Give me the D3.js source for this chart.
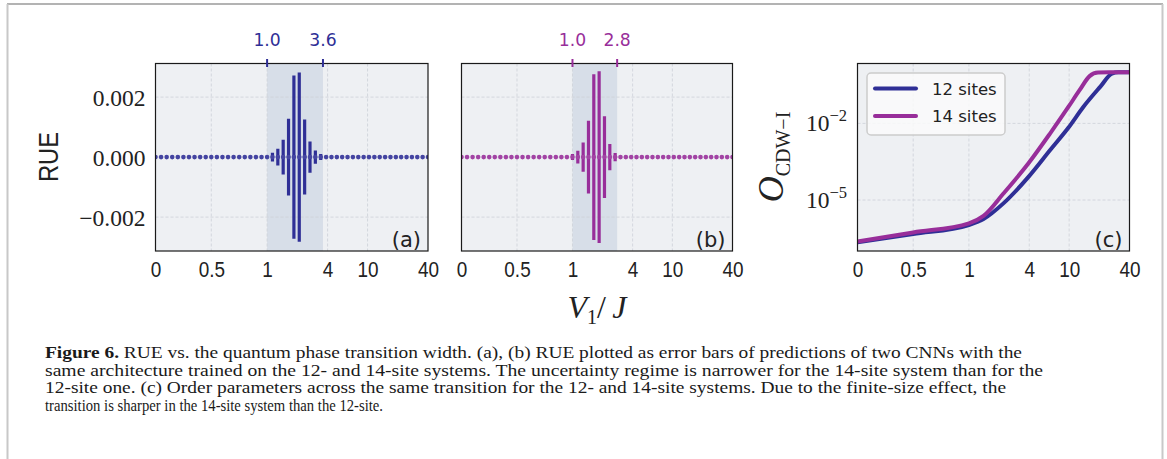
<!DOCTYPE html>
<html>
<head>
<meta charset="utf-8">
<script src="https://cdn.jsdelivr.net/npm/d3@7"></script>
<style>
  body { margin: 0; background: #fff; }
  svg { display: block; }
</style>
</head>
<body>
<svg id="fig"></svg>
<script>
// ---- data ----
// V1/J sample grid shared by panels (a) and (b)
const vGrid = [
  0, 0.05, 0.1, 0.15, 0.2, 0.25, 0.3, 0.35, 0.4, 0.45, 0.5,
  0.55, 0.6, 0.65, 0.7, 0.75, 0.8, 0.85, 0.9, 0.95, 1.0,
  1.131, 1.279, 1.446, 1.635, 1.849, 2.091, 2.365, 2.674, 3.024, 3.42,
  3.867, 4.373, 4.946, 5.593, 6.325, 7.152, 8.088, 9.147, 10.34, 11.7,
  13.23, 14.96, 16.92, 19.13, 21.63, 24.46, 27.66, 31.28, 35.37, 40
];
// RUE (half length of the error bar) for the 12-site CNN
const rue12 = [
  0, 0, 0, 0, 0, 0, 0, 0, 0, 0, 0,
  0, 0, 0, 0, 0, 0, 0, 0, 0, 0.00002,
  0.000145, 0.00028, 0.00058, 0.00128, 0.00272, 0.00282, 0.00125, 0.00052, 0.00022, 0.0001,
  0, 0, 0, 0, 0, 0, 0, 0, 0, 0,
  0, 0, 0, 0, 0, 0, 0, 0, 0, 0
];
// RUE for the 14-site CNN
const rue14 = [
  0, 0, 0, 0, 0, 0, 0, 0, 0, 0, 0,
  0, 0, 0, 0, 0, 0, 0, 0, 0, 0.0001,
  0.00021, 0.00049, 0.00121, 0.00276, 0.00286, 0.00136, 0.00044, 0.00014, 0, 0,
  0, 0, 0, 0, 0, 0, 0, 0, 0, 0,
  0, 0, 0, 0, 0, 0, 0, 0, 0, 0
];
const window12 = [1.0, 3.6];
const window14 = [1.0, 2.8];
const windowLabels12 = ['1.0', '3.6'];
const windowLabels14 = ['1.0', '2.8'];

const xTicks = [0, 0.5, 1, 4, 10, 40];
const xTickLabels = ['0', '0.5', '1', '4', '10', '40'];
const rueTicks = [-0.002, 0, 0.002];
const rueTickLabels = ['\u22120.002', '0.000', '0.002'];

// order parameter O_CDW-I
const orderV12 = [0, 0.5, 1.0, 1.4, 2.21, 3.93, 6.47, 9.86, 13.9, 20.4, 26.7, 31, 40];
const order12 = [2.24e-7, 4.7e-7, 1.05e-6, 1.8e-6, 7.4e-6, 8.1e-5, 9.1e-4, 6.9e-3, 0.045, 0.27, 0.89, 1.0, 1.0];
const orderV14 = [0, 0.5, 1.0, 1.4, 2.21, 3.93, 6.47, 9.86, 12.7, 16.0, 19.4, 25, 40];
const order14 = [2.4e-7, 5.4e-7, 1.23e-6, 2.4e-6, 1.8e-5, 2.75e-4, 4.1e-3, 0.045, 0.2, 0.71, 0.98, 1.0, 1.0];
const orderTicks = [1e-5, 1e-2];
const orderTickExp = ['\u22125', '\u22122'];
const legendLabels = ['12 sites', '14 sites'];

const captionLines = [
  ['Figure 6.', ' RUE vs. the quantum phase transition width. (a), (b) RUE plotted as error bars of predictions of two CNNs with the'],
  ['', 'same architecture trained on the 12- and 14-site systems. The uncertainty regime is narrower for the 14-site system than for the'],
  ['', '12-site one. (c) Order parameters across the same transition for the 12- and 14-site systems. Due to the finite-size effect, the'],
  ['', 'transition is sharper in the 14-site system than the 12-site.']
];
const captionWidths = [977, 998, 961, 338];

// ---- style ----
const BLUE = '#2f2f96';
const MAGENTA = '#982e9a';
const BG = '#eef0f3';
const SHADE = '#d7dee8';
const GRID = '#cdd1d8';
const NARROW = '"Liberation Sans", Arial, sans-serif';
const SANS = '"DejaVu Sans", sans-serif';
const SERIF = '"Liberation Serif", "DejaVu Serif", serif';

const W = 1167, H = 459;
const plotTop = 63.5, plotH = 187.5;

const svg = d3.select('#fig').attr('width', W).attr('height', H);
svg.append('rect').attr('width', W).attr('height', H).attr('fill', '#fff');

// page frame of the journal figure box
svg.append('line').attr('x1', 7).attr('x2', 1163).attr('y1', 4).attr('y2', 4)
  .attr('stroke', '#9a9a9a').attr('stroke-width', 1.5);
svg.append('line').attr('x1', 7.5).attr('x2', 7.5).attr('y1', 4).attr('y2', H)
  .attr('stroke', '#c8c8c8').attr('stroke-width', 2);
svg.append('line').attr('x1', 1162.5).attr('x2', 1162.5).attr('y1', 4).attr('y2', H)
  .attr('stroke', '#c8c8c8').attr('stroke-width', 2);

// matplotlib symlog transform, linthresh = 1
const LINSCALE = 1 / (1 - 1 / 10);
function symlog(v) {
  return v <= 1 ? v * LINSCALE : LINSCALE + Math.log10(v);
}

// squeeze a text to mimic the narrow sans of the original
function narrow(sel, k) {
  sel.each(function () {
    const len = this.getComputedTextLength();
    d3.select(this).attr('textLength', len * k).attr('lengthAdjust', 'spacingAndGlyphs');
  });
}

function addBottomAxis(g, x, width) {
  const axis = d3.axisBottom(x)
    .tickValues(xTicks.map(symlog))
    .tickFormat((d, i) => xTickLabels[i])
    .tickSize(0)
    .tickPadding(11);
  const ga = g.append('g').attr('transform', `translate(0,${plotH})`).call(axis);
  ga.select('.domain').remove();
  ga.selectAll('text').attr('font-family', NARROW).attr('font-size', 21.5).attr('fill', '#222');
  narrow(ga.selectAll('text'), 0.88);
}

function addFrame(g, width) {
  g.append('rect').attr('width', width).attr('height', plotH)
    .attr('fill', 'none').attr('stroke', '#1a1a1a').attr('stroke-width', 1.2);
}

function addPanelLabel(g, width, txt) {
  g.append('text').attr('x', width - 7).attr('y', 183)
    .attr('text-anchor', 'end').attr('font-family', SANS).attr('font-size', 21)
    .attr('fill', '#222').text(txt);
}

function createRuePanel(id, left, width, values, color, win, winLabels, showY, label) {
  const g = svg.append('g').attr('transform', `translate(${left},${plotTop})`);
  const x = d3.scaleLinear().domain([symlog(0), symlog(40)]).range([0, width]);
  const y = d3.scaleLinear().domain([-0.00313, 0.00312]).range([plotH, 0]);

  svg.append('clipPath').attr('id', id).append('rect').attr('width', width).attr('height', plotH);

  g.append('rect').attr('width', width).attr('height', plotH).attr('fill', BG);

  // uncertainty window
  g.append('rect')
    .attr('x', x(symlog(win[0])))
    .attr('width', x(symlog(win[1])) - x(symlog(win[0])))
    .attr('height', plotH)
    .attr('fill', SHADE);

  // grid
  g.append('g').selectAll('line').data(xTicks.slice(1, -1)).join('line')
    .attr('x1', (d) => x(symlog(d))).attr('x2', (d) => x(symlog(d)))
    .attr('y1', 0).attr('y2', plotH)
    .attr('stroke', GRID).attr('stroke-width', 0.8).attr('stroke-dasharray', '3,2');
  g.append('g').selectAll('line').data(rueTicks).join('line')
    .attr('x1', 0).attr('x2', width)
    .attr('y1', (d) => y(d)).attr('y2', (d) => y(d))
    .attr('stroke', GRID).attr('stroke-width', 0.8).attr('stroke-dasharray', '3,2');

  const pts = vGrid.map((v, i) => ({ v, e: values[i] }));
  const marks = g.append('g').attr('clip-path', `url(#${id})`);

  // error bars
  marks.selectAll('line').data(pts.filter((d) => d.e > 0)).join('line')
    .attr('x1', (d) => x(symlog(d.v))).attr('x2', (d) => x(symlog(d.v)))
    .attr('y1', (d) => y(d.e)).attr('y2', (d) => y(-d.e))
    .attr('stroke', color).attr('stroke-width', 3.2);

  // point markers
  marks.selectAll('circle').data(pts).join('circle')
    .attr('cx', (d) => x(symlog(d.v))).attr('cy', y(0)).attr('r', 2.3)
    .attr('fill', d3.interpolateRgb(color, '#ffffff')(0.1));

  addFrame(g, width);

  // window ticks on top
  g.append('g').selectAll('line').data(win).join('line')
    .attr('x1', (d) => x(symlog(d))).attr('x2', (d) => x(symlog(d)))
    .attr('y1', -4.5).attr('y2', 3.5)
    .attr('stroke', color).attr('stroke-width', 2);
  g.append('g').selectAll('text').data(win).join('text')
    .attr('x', (d) => x(symlog(d))).attr('y', -17.5)
    .attr('text-anchor', 'middle').attr('font-family', SANS).attr('font-size', 17.2)
    .attr('fill', color).text((d, i) => winLabels[i]);

  addBottomAxis(g, x, width);

  if (showY) {
    const axis = d3.axisLeft(y).tickValues(rueTicks)
      .tickFormat((d, i) => rueTickLabels[i]).tickSize(0).tickPadding(10);
    const ga = g.append('g').call(axis);
    ga.select('.domain').remove();
    ga.selectAll('text').attr('font-family', SERIF).attr('font-size', 23.5)
      .attr('fill', '#222').attr('dy', '0.34em');
  }

  addPanelLabel(g, width, label);
}

function createOrderPanel(left, width) {
  const g = svg.append('g').attr('transform', `translate(${left},${plotTop})`);
  const x = d3.scaleLinear().domain([symlog(0), symlog(40)]).range([0, width]);
  const y = d3.scaleLog().domain([1.01e-7, 2.22]).range([plotH, 0]);

  svg.append('clipPath').attr('id', 'clipc').append('rect').attr('width', width).attr('height', plotH);
  g.append('rect').attr('width', width).attr('height', plotH).attr('fill', BG);

  g.append('g').selectAll('line').data(xTicks.slice(1, -1)).join('line')
    .attr('x1', (d) => x(symlog(d))).attr('x2', (d) => x(symlog(d)))
    .attr('y1', 0).attr('y2', plotH)
    .attr('stroke', GRID).attr('stroke-width', 0.8).attr('stroke-dasharray', '3,2');
  g.append('g').selectAll('line').data(orderTicks).join('line')
    .attr('x1', 0).attr('x2', width)
    .attr('y1', (d) => y(d)).attr('y2', (d) => y(d))
    .attr('stroke', GRID).attr('stroke-width', 0.8).attr('stroke-dasharray', '3,2');

  const line = d3.line()
    .x((d) => x(symlog(d[0])))
    .y((d) => y(d[1]))
    .curve(d3.curveMonotoneX);

  const series = [
    { color: BLUE, pts: orderV12.map((v, i) => [v, order12[i]]) },
    { color: MAGENTA, pts: orderV14.map((v, i) => [v, order14[i]]) }
  ];
  g.append('g').attr('clip-path', 'url(#clipc)')
    .selectAll('path').data(series).join('path')
    .attr('d', (d) => line(d.pts))
    .attr('fill', 'none').attr('stroke', (d) => d.color)
    .attr('stroke-width', 4).attr('stroke-linecap', 'round').attr('stroke-linejoin', 'round');

  addFrame(g, width);
  addBottomAxis(g, x, width);

  // y ticks 10^-k
  const yt = g.append('g').selectAll('text').data(orderTicks).join('text')
    .attr('x', -10.5).attr('y', (d) => y(d) + 8)
    .attr('text-anchor', 'end').attr('font-family', SERIF).attr('font-size', 23.5).attr('fill', '#222');
  yt.append('tspan').text('10');
  yt.append('tspan').attr('dy', -10).attr('font-size', 16.5).text((d, i) => orderTickExp[i]);

  // legend
  const lg = g.append('g').attr('transform', 'translate(9.5,9.5)');
  lg.append('rect').attr('width', 138).attr('height', 62).attr('rx', 4)
    .attr('fill', '#fafafa').attr('fill-opacity', 0.85)
    .attr('stroke', '#cccccc').attr('stroke-width', 1.5);
  const items = lg.selectAll('g').data(series).join('g')
    .attr('transform', (d, i) => `translate(0,${15.5 + i * 27.5})`);
  items.append('line').attr('x1', 8).attr('x2', 49)
    .attr('stroke', (d) => d.color).attr('stroke-width', 4).attr('stroke-linecap', 'round');
  items.append('text').attr('x', 65).attr('y', 6)
    .attr('font-family', SANS).attr('font-size', 16.5).attr('fill', '#222')
    .text((d, i) => legendLabels[i]);

  addPanelLabel(g, width, '(c)');
}

createRuePanel('clipa', 155.5, 272.5, rue12, BLUE, window12, windowLabels12, true, '(a)');
createRuePanel('clipb', 461.5, 271, rue14, MAGENTA, window14, windowLabels14, false, '(b)');
createOrderPanel(857.5, 272);

// axis titles
const rueLabel = svg.append('text')
  .attr('transform', 'translate(58,157) rotate(-90)')
  .attr('text-anchor', 'middle').attr('font-family', NARROW).attr('font-size', 27)
  .attr('fill', '#222').text('RUE');
narrow(rueLabel, 0.88);

const xl = svg.append('text').attr('x', 597).attr('y', 318)
  .attr('text-anchor', 'middle').attr('font-family', SERIF).attr('font-size', 32).attr('fill', '#222');
xl.append('tspan').attr('font-style', 'italic').text('V');
xl.append('tspan').attr('font-size', 20).attr('dy', 6).text('1');
xl.append('tspan').attr('dy', -6).text('/\u2009');
xl.append('tspan').attr('font-style', 'italic').text('J');

const yl = svg.append('text')
  .attr('transform', 'translate(783,157) rotate(-90)')
  .attr('text-anchor', 'middle').attr('font-family', SERIF).attr('font-size', 36).attr('fill', '#222');
yl.append('tspan').attr('font-style', 'italic').text('O');
yl.append('tspan').attr('font-size', 20).attr('dy', 7).text('CDW\u2212I');

// caption: the original face is wider than Times, so each line is fitted
// to its measured width by scaling the glyphs horizontally
const cap = svg.append('g');
captionLines.forEach((ln, i) => {
  const t = cap.append('text').attr('x', 45).attr('y', 358 + i * 17.5)
    .attr('font-family', SERIF).attr('font-size', 16).attr('fill', '#1a1a1a')
    .attr('textLength', captionWidths[i]).attr('lengthAdjust', 'spacingAndGlyphs');
  if (ln[0]) t.append('tspan').attr('font-weight', 'bold').text(ln[0]);
  t.append('tspan').text(ln[1]);
});
</script>
</body>
</html>
